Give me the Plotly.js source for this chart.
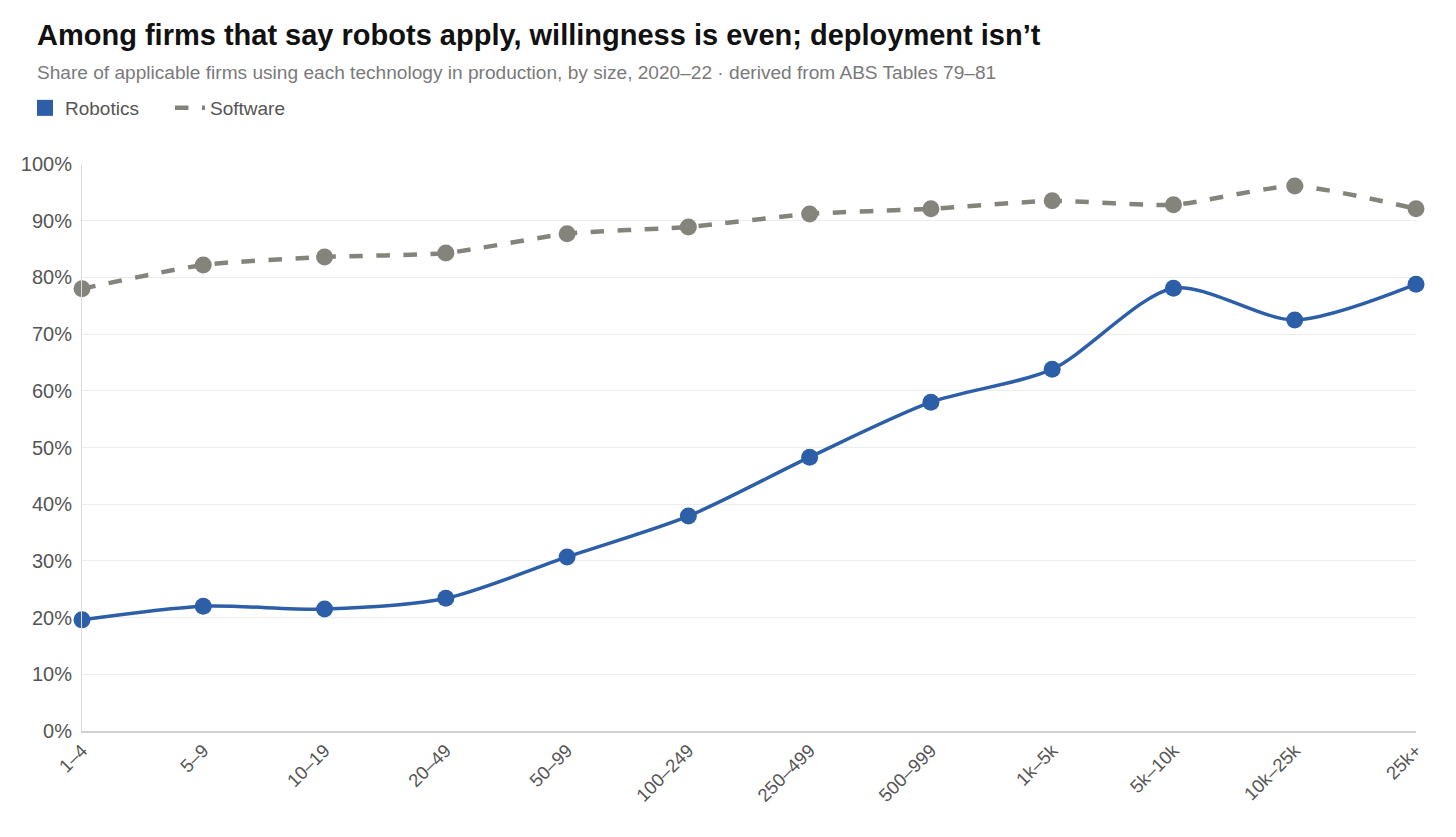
<!DOCTYPE html>
<html><head><meta charset="utf-8">
<script src="https://cdn.plot.ly/plotly-3.0.1.min.js"></script>
<style>html,body{margin:0;padding:0;background:#fff}#chart{width:1456px;height:837px}</style>
</head><body><div id="chart"></div>
<script>
const sizes = ["1–4","5–9","10–19","20–49","50–99","100–249","250–499","500–999","1k–5k","5k–10k","10k–25k","25k+"];
const robotics = [19.6, 22.0, 21.5, 23.4, 30.7, 37.9, 48.3, 58.0, 63.8, 78.1, 72.5, 78.8];
const software = [78.0, 82.2, 83.6, 84.3, 87.7, 88.9, 91.2, 92.1, 93.5, 92.8, 96.1, 92.1];
const yTicks = [0,10,20,30,40,50,60,70,80,90,100];
const yTickText = yTicks.map(v => v + "%");

const BLUE = "#2c5fa7", GREY = "#85847c";
const FONT = "Liberation Sans, Arial, sans-serif";

const traces = [
  {x: sizes, y: software, type: "scatter", mode: "lines+markers", name: "Software", showlegend: false,
   line: {color: GREY, width: 4.5, dash: "dash", shape: "spline", smoothing: 0.6},
   marker: {color: GREY, size: 17}, cliponaxis: false},
  {x: sizes, y: robotics, type: "scatter", mode: "lines+markers", name: "Robotics", showlegend: false,
   line: {color: BLUE, width: 3.5, shape: "spline", smoothing: 0.8},
   marker: {color: BLUE, size: 17}, cliponaxis: false},
  {x: [null], y: [null], type: "scatter", mode: "markers", name: "Robotics",
   marker: {color: BLUE, symbol: "square", size: 19}},
  {x: [null], y: [null], type: "scatter", mode: "lines", name: "Software",
   line: {color: GREY, width: 4.5, dash: "dash"}}
];

const layout = {
  width: 1456, height: 837,
  paper_bgcolor: "#fff", plot_bgcolor: "#fff",
  margin: {l: 82, r: 40, t: 164, b: 106},
  font: {family: FONT, color: "#555"},
  title: {text: "Among firms that say robots apply, willingness is even; deployment isn’t",
          font: {family: FONT, size: 29, color: "#111", weight: "bold"},
          x: 37/1456, xanchor: "left", xref: "container",
          y: 1 - 35/837, yanchor: "middle", yref: "container"},
  annotations: [{text: "Share of applicable firms using each technology in production, by size, 2020–22 · derived from ABS Tables 79–81",
    xref: "paper", yref: "paper", x: (35-82)/1334, y: 1 + (164-72)/567,
    xanchor: "left", yanchor: "middle", showarrow: false,
    font: {family: FONT, size: 19.1, color: "#7a7a7a"}}],
  showlegend: true,
  legend: {orientation: "h", x: (25-82)/1334, xanchor: "left", y: 1 + (164-108)/567, yanchor: "middle",
           font: {family: FONT, size: 19, color: "#555"}, itemwidth: 30, entrywidth: 100, tracegroupgap: 0, bgcolor: "rgba(0,0,0,0)"},
  xaxis: {type: "category", range: [0, 11], showgrid: false, zeroline: false,
          showline: true, linecolor: "#d0d0d0", linewidth: 1.5, ticks: "",
          tickangle: -45, tickfont: {family: FONT, size: 18.5, color: "#555"}, automargin: false, fixedrange: true},
  yaxis: {range: [0, 100], tickvals: yTicks, ticktext: yTickText, showgrid: true, gridcolor: "#ececec", gridwidth: 1,
          zeroline: false, showline: true, linecolor: "#dcdcdc", linewidth: 1, ticks: "", ticklabelstandoff: 5,
          tickfont: {family: FONT, size: 20, color: "#555"}, automargin: false, fixedrange: true}
};

Plotly.newPlot("chart", traces, layout, {displayModeBar: false, staticPlot: true});
</script></body></html>
